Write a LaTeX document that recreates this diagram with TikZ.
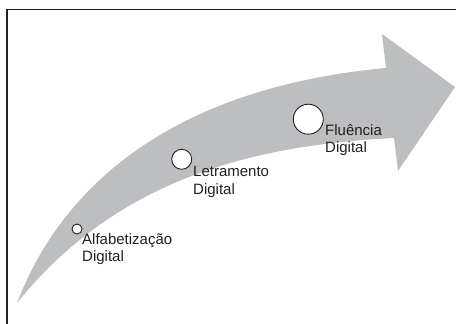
\documentclass[tikz,border=0pt]{standalone}
\usepackage{fontspec}
\setmainfont{Liberation Sans}
\definecolor{bandgray}{RGB}{189,190,192}
\definecolor{ink}{RGB}{35,31,32}
\begin{document}
\begin{tikzpicture}[x=1pt,y=-1pt,
  stage/.style={circle,draw=ink,fill=white,line width=0.9pt,inner sep=0pt},
  label/.style={anchor=base west,align=left,inner sep=0pt,text=ink,
    font=\fontsize{15}{17.4}\selectfont}]
\useasboundingbox (0,0) rectangle (456,324);
% frame
\draw[ink,line width=1.3pt] (7,324) -- (7,9.5) -- (456,9.5);
% curved arrow
\fill[bandgray] (17,303) .. controls (70,165) and (200,85) .. (386,68)
  -- (382,34) -- (455,87) -- (398,171) -- (394,138)
  .. controls (260,145) and (120,175) .. (17,303) -- cycle;
% stages
\node[stage,minimum size=10pt] (a) at (77,229) {};
\node[stage,minimum size=20pt] (l) at (181.7,159.3) {};
\node[stage,minimum size=30pt] (f) at (308.3,119.2) {};
% labels (anchor at baseline of the last line)
\node[label] (ta) at (82,261.7) {Alfabetização\\Digital};
\node[label] (tl) at (193,194.1) {Letramento\\Digital};
\node[label] (tf) at (325,152.4) {Fluência\\Digital};
\end{tikzpicture}
\end{document}
